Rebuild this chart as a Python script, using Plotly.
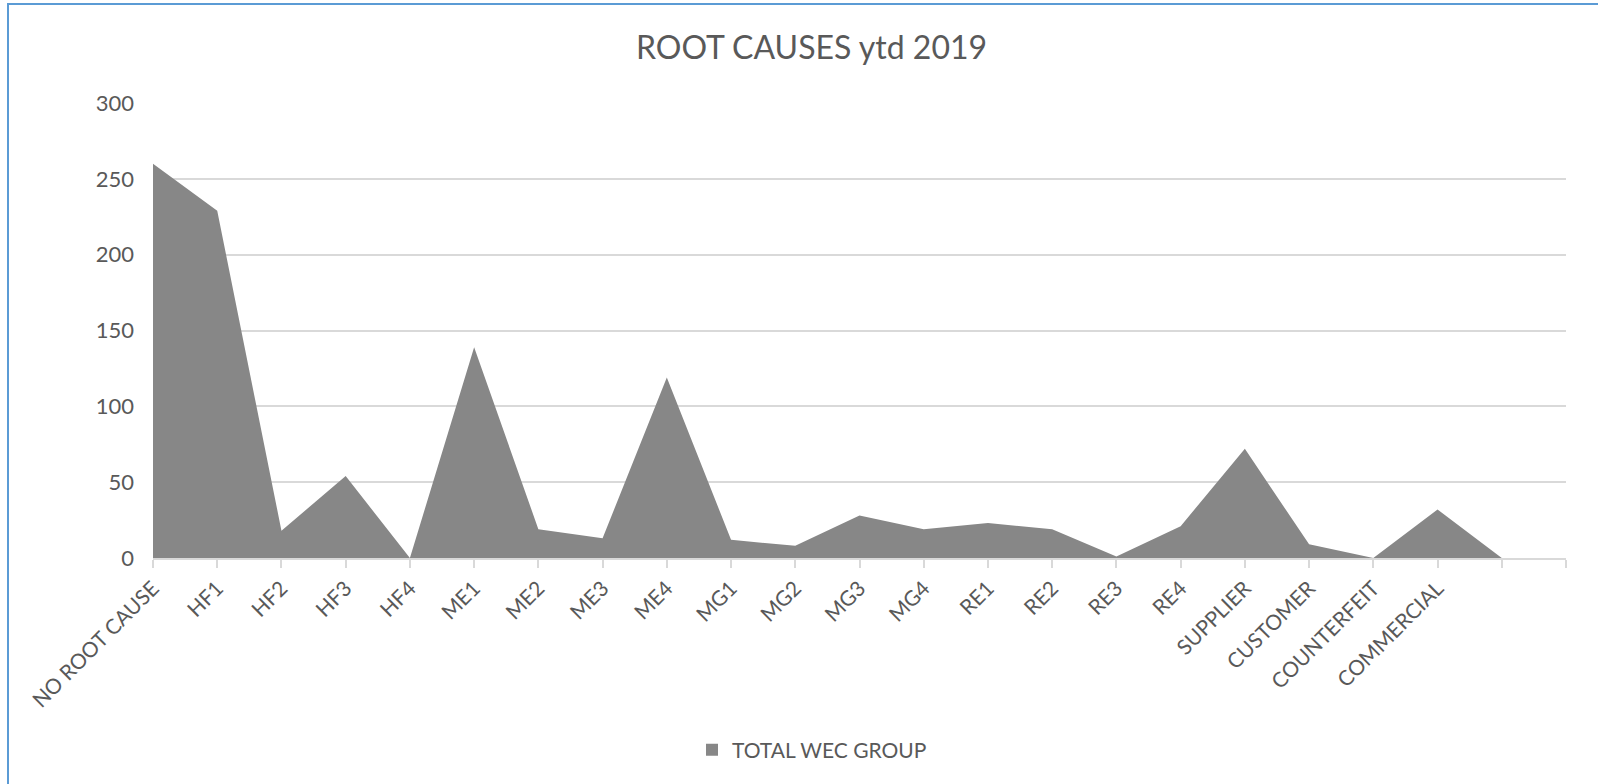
import plotly.graph_objects as go

categories = ["NO ROOT CAUSE", "HF1", "HF2", "HF3", "HF4", "ME1", "ME2", "ME3", "ME4",
              "MG1", "MG2", "MG3", "MG4", "RE1", "RE2", "RE3", "RE4",
              "SUPPLIER", "CUSTOMER", "COUNTERFEIT", "COMMERCIAL", " ", "  "]
values = [260, 229, 18, 54, 0, 139, 19, 13, 119,
          12, 8, 28, 19, 23, 19, 1, 21,
          72, 9, 0, 32, 0, None]
series_name = "TOTAL WEC GROUP"
title_text = "ROOT CAUSES ytd 2019"
y_ticks = [0, 50, 100, 150, 200, 250, 300]

W, H = 1598, 784
L, R, T, B = 153, 32, 103, 226
plot_w = W - L - R
plot_h = H - T - B

FONT = "Lato, 'Liberation Sans', sans-serif"
TXT = "#595959"
AREA = "#878787"
GRID = "#d9d9d9"

fig = go.Figure()
fig.add_trace(go.Scatter(
    x=categories, y=values, mode="lines", fill="tozeroy",
    line=dict(width=0, color=AREA), fillcolor=AREA,
    showlegend=False, name=series_name, hoverinfo="x+y",
))
# legend entry (square swatch)
fig.add_trace(go.Bar(
    x=[categories[0]], y=[0], name=series_name,
    marker=dict(color=AREA, line=dict(width=0)), showlegend=True, hoverinfo="skip",
))

def px_x(px):
    return (px - L) / plot_w

def px_y(py):
    return (H - B - py) / plot_h

fig.update_layout(
    width=W, height=H,
    margin=dict(l=L, r=R, t=T, b=B, autoexpand=False),
    paper_bgcolor="white", plot_bgcolor="white",
    font=dict(family=FONT, color=TXT, size=21),
    title=dict(text=title_text, x=811.5 / W, xanchor="center",
               y=1 - 48 / H, yanchor="middle", yref="container",
               font=dict(family=FONT, size=32, color=TXT)),
    showlegend=True,
    legend=dict(orientation="h", x=px_x(812), xanchor="center",
                y=px_y(750), yanchor="middle",
                font=dict(family=FONT, size=21, color=TXT),
                bgcolor="rgba(0,0,0,0)"),
    xaxis=dict(
        type="category", categoryorder="array", categoryarray=categories,
        range=[0, len(categories) - 1],
        tickmode="linear", tick0=0, dtick=1,
        tickangle=-45, ticks="outside", ticklen=8, tickwidth=1.5, tickcolor=GRID,
        showline=True, linecolor=GRID, linewidth=1.5,
        showgrid=False, zeroline=False,
        tickfont=dict(family=FONT, size=21, color=TXT),
    ),
    yaxis=dict(
        range=[0, 300], tickmode="array", tickvals=y_ticks,
        showgrid=True, gridcolor=GRID, gridwidth=1.5,
        showline=False, zeroline=False, ticks="",
        ticklabelstandoff=18,
        tickfont=dict(family=FONT, size=22, color=TXT),
    ),
    bargap=0.5,
    shapes=[dict(type="rect", xref="paper", yref="paper",
                 x0=px_x(8), x1=px_x(1640), y0=px_y(820), y1=px_y(4),
                 line=dict(color="#5b9bd5", width=2), fillcolor="rgba(0,0,0,0)",
                 layer="above")],
)

fig.write_html("out.html")
